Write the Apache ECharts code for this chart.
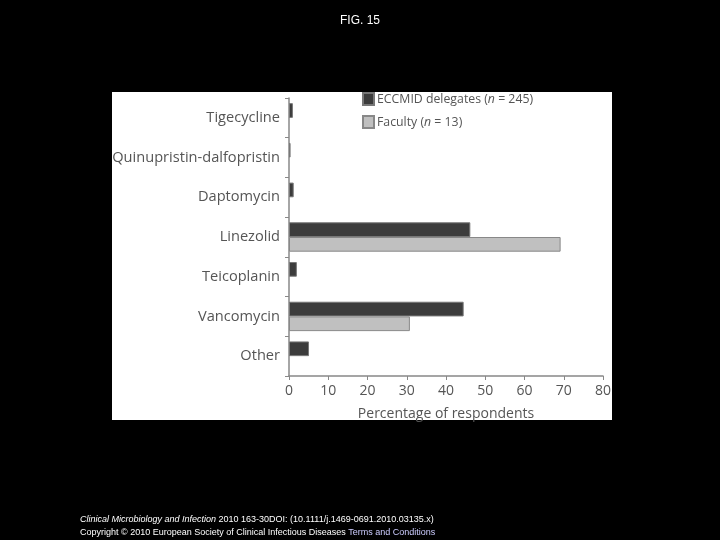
<!DOCTYPE html>
<html><head><meta charset="utf-8">
<script src="https://cdn.jsdelivr.net/npm/echarts@6/dist/echarts.min.js"></script>
<style>html,body{margin:0;padding:0;background:#000;}#c{width:720px;height:540px;}</style>
</head><body><div id="c"></div>
<script>
var categories = ['Tigecycline','Quinupristin-dalfopristin','Daptomycin','Linezolid','Teicoplanin','Vancomycin','Other'];
var delegates = [1.0, 0.4, 1.2, 46.2, 2.0, 44.5, 5.1];
var faculty = [null, null, null, 69.2, null, 30.8, null];
var xTicks = [0,10,20,30,40,50,60,70,80];

var chart = echarts.init(document.getElementById('c'));
var font = '"Open Sans", "Noto Sans", sans-serif';
chart.setOption({
  backgroundColor: '#000',
  animation: false,
  title: {text: 'FIG. 15', left: 'center', top: 10, textStyle: {color: '#fff', fontSize: 12, fontWeight: 'normal', fontFamily: 'Liberation Sans, Arial'}},
  graphic: [
    {type: 'rect', shape: {x: 112, y: 92, width: 500, height: 328}, style: {fill: '#fff'}, z: -10},
    {type: 'text', left: 80, top: 515, style: {text: '{i|Clinical Microbiology and Infection} 2010 163-30DOI: (10.1111/j.1469-0691.2010.03135.x)', fill: '#fff', font: '9px Liberation Sans', rich: {i: {fontStyle: 'italic', fontSize: 9, fill: '#fff'}}}},
    {type: 'text', left: 80, top: 528, style: {text: 'Copyright © 2010 European Society of Clinical Infectious Diseases {u|Terms and Conditions}', fill: '#fff', font: '9px Liberation Sans', rich: {u: {fill: '#ccccff', fontSize: 9, textDecoration: 'underline'}}}}
  ],
  legend: {
    orient: 'vertical', left: 362, top: 92, padding: 0, itemWidth: 11, itemHeight: 12, itemGap: 9,
    icon: 'rect',
    textStyle: {color: '#555', fontSize: 12.3, fontFamily: font, padding: [0,0,0,-2], rich: {n: {fontStyle: 'italic', color: '#555', fontSize: 12.3, fontFamily: font}}},
    formatter: function(name){ return name === 'd' ? 'ECCMID delegates ({n|n} = 245)' : 'Faculty ({n|n} = 13)'; },
    data: ['d','f']
  },
  grid: {left: 289, top: 98, width: 314, height: 278, containLabel: false},
  xAxis: {
    type: 'value', min: 0, max: 80, interval: 10,
    axisLine: {show: true, lineStyle: {color: '#888', width: 1.5}},
    axisTick: {show: true, length: 4, lineStyle: {color: '#888'}},
    splitLine: {show: false},
    axisLabel: {color: '#555', fontSize: 14, fontFamily: font, margin: 8, formatter: function(v){ return xTicks.indexOf(v) >= 0 ? String(v) : ''; }},
    name: 'Percentage of respondents', nameLocation: 'middle', nameGap: 31,
    nameTextStyle: {color: '#555', fontSize: 14, fontFamily: font}
  },
  yAxis: {
    type: 'category', data: categories, inverse: true,
    axisLine: {show: true, lineStyle: {color: '#888', width: 1.5}},
    axisTick: {show: true, length: 4, lineStyle: {color: '#888'}},
    axisLabel: {color: '#555', fontSize: 14.6, fontFamily: font, margin: 9}
  },
  series: [
    {name: 'd', type: 'bar', data: delegates, barGap: '0%', barCategoryGap: '26%',
     itemStyle: {color: '#3c3c3c', borderColor: '#777', borderWidth: 1}},
    {name: 'f', type: 'bar', data: faculty,
     itemStyle: {color: '#c0c0c0', borderColor: '#888', borderWidth: 1}}
  ]
});
</script></body></html>
